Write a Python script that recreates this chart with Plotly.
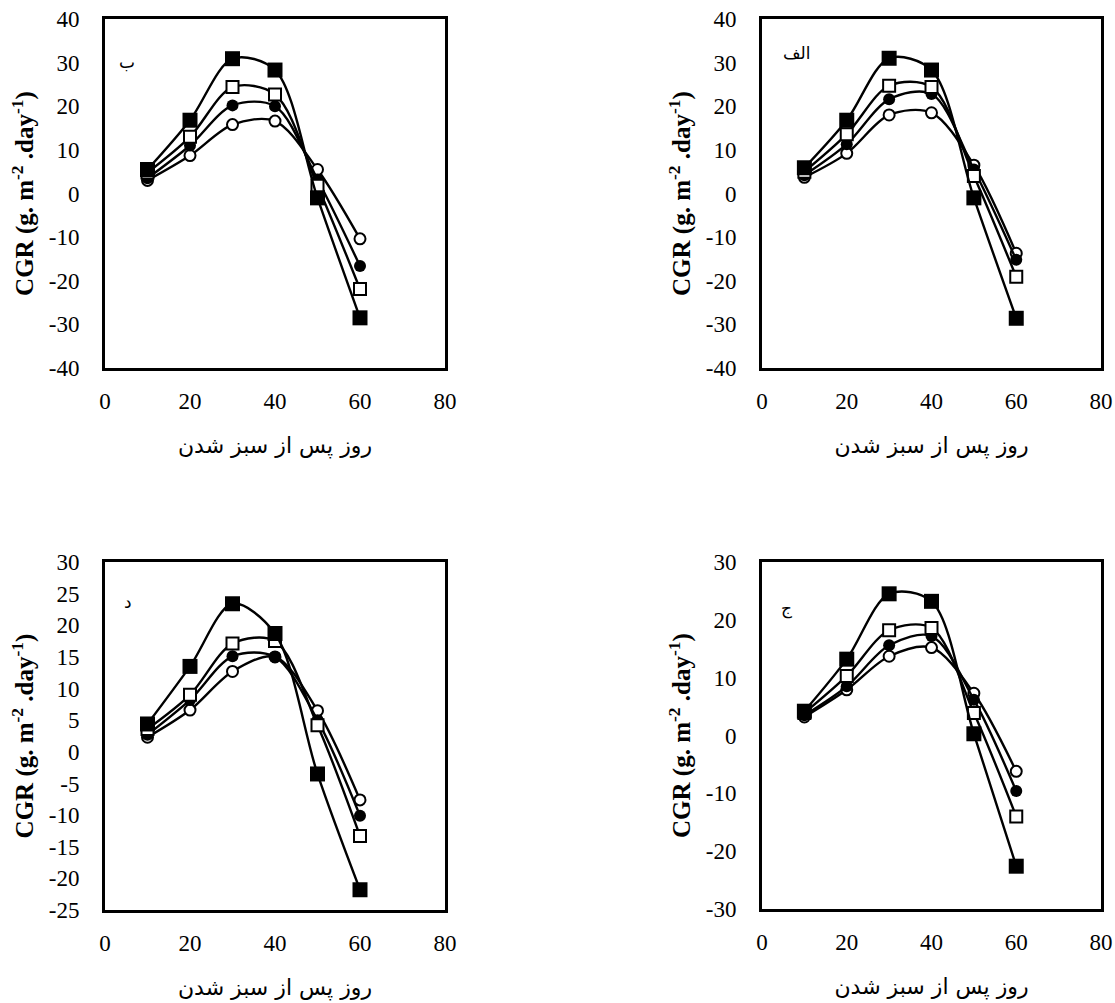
import plotly.graph_objects as go

days = [10, 20, 30, 40, 50, 60]

# Panel "الف" (top-right)
fsq_alef = [5.9, 16.8, 31.0, 28.3, -1.0, -28.6]
osq_alef = [5.0, 13.6, 24.7, 24.4, 4.0, -19.1]
fci_alef = [4.2, 11.3, 21.6, 22.8, 5.5, -15.2]
oci_alef = [3.7, 9.2, 18.0, 18.5, 6.5, -13.7]

# Panel "ب" (top-left)
fsq_be = [5.5, 16.8, 30.9, 28.3, -1.0, -28.5]
osq_be = [4.8, 13.0, 24.4, 22.7, 1.8, -21.9]
fci_be = [3.5, 11.0, 20.2, 20.0, 3.2, -16.6]
oci_be = [3.0, 8.7, 15.8, 16.6, 5.5, -10.4]

# Panel "ج" (bottom-right)
fsq_jim = [4.2, 13.2, 24.5, 23.2, 0.3, -22.6]
osq_jim = [3.9, 10.3, 18.2, 18.6, 3.9, -14.0]
fci_jim = [3.5, 8.5, 15.6, 17.2, 6.2, -9.6]
oci_jim = [3.2, 7.9, 13.7, 15.2, 7.3, -6.2]

# Panel "د" (bottom-left)
fsq_dal = [4.4, 13.5, 23.4, 18.7, -3.5, -21.8]
osq_dal = [3.6, 9.0, 17.1, 17.5, 4.2, -13.3]
fci_dal = [2.7, 8.2, 15.1, 15.0, 5.0, -10.1]
oci_dal = [2.3, 6.6, 12.7, 15.0, 6.5, -7.6]

panel_labels = ["ب", "الف", "د", "ج"]
x_title = "روز پس از سبز شدن"
y_title = "CGR (g. m<sup>-2</sup> .day<sup>-1</sup>)"
x_ticks = [0, 20, 40, 60, 80]
y_ticks_top = [-40, -30, -20, -10, 0, 10, 20, 30, 40]
y_ticks_dal = [-25, -20, -15, -10, -5, 0, 5, 10, 15, 20, 25, 30]
y_ticks_jim = [-30, -20, -10, 0, 10, 20, 30]

W, H = 1115, 1003

# panel boxes in pixels: (left, right, top, bottom)
boxes = [
    (105, 445, 19, 368),    # ب
    (762, 1101, 19, 368),   # الف
    (105, 445, 562, 910),   # د
    (762, 1101, 562, 909),  # ج
]
panels = [
    (fsq_be, osq_be, fci_be, oci_be, y_ticks_top),
    (fsq_alef, osq_alef, fci_alef, oci_alef, y_ticks_top),
    (fsq_dal, osq_dal, fci_dal, oci_dal, y_ticks_dal),
    (fsq_jim, osq_jim, fci_jim, oci_jim, y_ticks_jim),
]

fig = go.Figure()
serif = "Liberation Serif, Times New Roman, serif"
layout = dict(
    width=W, height=H, margin=dict(l=0, r=0, t=0, b=0, autoexpand=False),
    paper_bgcolor="white", plot_bgcolor="white", showlegend=False,
    annotations=[],
)

for i, ((l, r, t, b), (fsq, osq, fci, oci, yt)) in enumerate(zip(boxes, panels)):
    k = "" if i == 0 else str(i + 1)
    xa, ya = "x" + k, "y" + k
    styles = [
        (oci, dict(symbol="circle", size=11, color="white", line=dict(color="black", width=2))),
        (fci, dict(symbol="circle", size=12, color="black", line=dict(color="black", width=0))),
        (osq, dict(symbol="square", size=12, color="white", line=dict(color="black", width=2))),
        (fsq, dict(symbol="square", size=15, color="black", line=dict(color="black", width=0))),
    ]
    for vals, mk in styles:
        fig.add_trace(go.Scatter(
            x=days, y=vals, mode="lines+markers", xaxis=xa, yaxis=ya,
            line=dict(color="black", width=2.4, shape="spline", smoothing=0.9),
            marker=mk, hoverinfo="skip",
        ))
    axis_common = dict(
        showgrid=False, zeroline=False, showline=True, linecolor="black",
        linewidth=3, mirror=True, ticks="", automargin=False,
        tickfont=dict(family=serif, size=23, color="black"),
    )
    layout["xaxis" + k] = dict(
        axis_common, domain=[l / W, r / W], range=[0, 80],
        tickvals=x_ticks, ticktext=[str(v) for v in x_ticks],
        ticklabelstandoff=10, anchor=ya,
        title=dict(text=x_title, font=dict(family="DejaVu Sans", size=22, color="black"), standoff=26),
    )
    layout["yaxis" + k] = dict(
        axis_common, domain=[1 - b / H, 1 - t / H], range=[yt[0], yt[-1]],
        tickvals=yt, ticktext=[str(v) for v in yt],
        ticklabelstandoff=18, anchor=xa,
        title=dict(text="<b>" + y_title + "</b>", font=dict(family=serif, size=25, color="black"), standoff=8),
    )
    lx = {0: 127, 1: 797, 2: 128, 3: 786}[i]
    ly = {0: 62, 1: 53, 2: 602, 3: 608}[i]
    layout["annotations"].append(dict(
        text=panel_labels[i], x=lx / W, y=1 - ly / H, xref="paper", yref="paper",
        showarrow=False, font=dict(family="DejaVu Sans", size=17, color="black"),
        xanchor="center", yanchor="middle",
    ))

fig.update_layout(**layout)
fig.write_html(
    "out.html",
    config={"displayModeBar": False},
    post_script="document.body.style.margin='0';document.body.style.overflow='hidden';",
)
